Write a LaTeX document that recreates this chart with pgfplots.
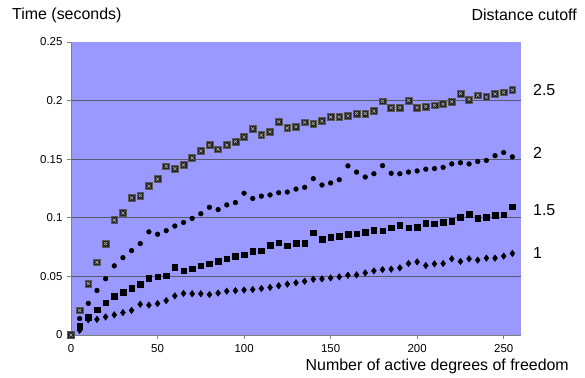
\documentclass[border=0pt]{standalone}
\usepackage{fontspec}
\setmainfont{Liberation Sans}
\usepackage{pgfplots}
\usepackage{pgfplotstable}
\pgfplotsset{compat=1.18}
\definecolor{plotbg}{RGB}{153,153,255}
\definecolor{gridc}{RGB}{88,88,110}
\definecolor{axc}{RGB}{128,128,128}

\pgfplotstableread{
x c1 c15 c2 c25
0 0 0 0 0
5 0.004 0.0075 0.014 0.021
10 0.013 0.0153 0.027 0.044
15 0.0133 0.0215 0.038 0.062
20 0.0154 0.0276 0.048 0.078
25 0.0172 0.033 0.059 0.098
30 0.0191 0.0366 0.066 0.104
35 0.021 0.0397 0.072 0.117
40 0.0262 0.0431 0.078 0.119
45 0.0255 0.0487 0.088 0.127
50 0.0268 0.0498 0.086 0.133
55 0.0294 0.0505 0.089 0.144
60 0.0334 0.0578 0.093 0.142
65 0.0355 0.0547 0.096 0.145
70 0.0352 0.0565 0.0995 0.151
75 0.0352 0.0592 0.1035 0.157
80 0.0345 0.061 0.109 0.162
85 0.0358 0.063 0.107 0.1585
90 0.0374 0.0652 0.111 0.162
95 0.0378 0.0673 0.113 0.165
100 0.0384 0.0685 0.121 0.169
105 0.0388 0.0716 0.1165 0.176
110 0.0397 0.0718 0.1185 0.1705
115 0.0406 0.0768 0.1195 0.1734
120 0.042 0.0786 0.1214 0.182
125 0.0434 0.0761 0.122 0.1766
130 0.0446 0.0784 0.1245 0.1777
135 0.0458 0.0784 0.126 0.1814
140 0.0476 0.0873 0.1334 0.1805
145 0.0479 0.0816 0.128 0.1825
150 0.0487 0.0836 0.1297 0.186
155 0.0496 0.0841 0.1325 0.186
160 0.051 0.0859 0.1443 0.187
165 0.0513 0.0865 0.139 0.189
170 0.053 0.0879 0.1348 0.189
175 0.0547 0.0896 0.1376 0.191
180 0.0558 0.089 0.1445 0.1994
185 0.0562 0.0916 0.138 0.194
190 0.0573 0.0939 0.1376 0.194
195 0.061 0.0916 0.139 0.200
200 0.0624 0.0922 0.140 0.194
205 0.0593 0.0954 0.1415 0.195
210 0.0607 0.0951 0.142 0.196
215 0.061 0.0962 0.143 0.197
220 0.065 0.097 0.146 0.199
225 0.0628 0.1005 0.147 0.206
230 0.065 0.1031 0.146 0.201
235 0.0639 0.0997 0.148 0.2045
240 0.0656 0.1005 0.149 0.203
245 0.0656 0.1022 0.153 0.2057
250 0.0673 0.1025 0.1557 0.207
255 0.0696 0.1096 0.152 0.209
}\data

\begin{document}
\begin{tikzpicture}
\useasboundingbox (-71bp,-43bp) rectangle (514bp,335bp);
\begin{axis}[
  scale only axis, width=450bp, height=293bp,
  at={(0,0)}, anchor=south west,
  xmin=0, xmax=260, ymin=0, ymax=0.25,
  clip=false,
  axis background/.style={fill=plotbg},
  axis x line*=bottom, axis y line*=left,
  axis line style={draw=axc, line width=0.9pt, -},
  xtick={0,50,100,150,200,250},
  xticklabels={0,50,100,150,200,250},
  ytick={0,0.05,0.1,0.15,0.2},
  yticklabels={0,0.05,0.1,0.15,0.2},
  extra y ticks={0.25}, extra y tick labels={0.25},
  extra y tick style={grid=none},
  tick align=outside, major tick length=4bp,
  tick style={draw=axc, line width=0.7pt},
  ymajorgrids, grid style={draw=gridc, line width=0.8pt},
  ticklabel style={font=\fontsize{11.5}{13}\selectfont},
  xticklabel style={yshift=-2bp},
  yticklabel style={xshift=-1bp},
  /pgf/number format/assume math mode=true,
]
\addplot[only marks, mark=diamond*, mark size=3.3bp, mark options={fill=black, draw=black}] table[x=x,y=c1] {\data};
\addplot[only marks, mark=square*, mark size=2.8bp, mark options={fill=black, draw=black}] table[x=x,y=c15] {\data};
\addplot[only marks, mark=*, mark size=2.4bp, mark options={fill=black, draw=black}] table[x=x,y=c2] {\data};
\addplot[only marks, mark=square*, mark size=3.4bp, mark options={fill=black!85, draw=gray!70!black, line width=0.6pt}] table[x=x,y=c25] {\data};
\addplot[only marks, mark=x, mark size=2.1bp, mark options={draw=gray!60, line width=0.55pt}, forget plot] table[x=x,y=c25] {\data};
\end{axis}
\begin{scope}[every node/.style={inner sep=0pt, font=\fontsize{16}{19}\selectfont}]
\node[anchor=west] at (-59bp,320bp) {Time (seconds)};
\node[anchor=east] at (506bp,320bp) {Distance cutoff};
\node[anchor=east] at (498bp,-31bp) {Number of active degrees of freedom};
\node[anchor=west] at (462bp,245bp) {2.5};
\node[anchor=west] at (462bp,182bp) {2};
\node[anchor=west] at (462bp,125bp) {1.5};
\node[anchor=west] at (462bp,82bp) {1};
\end{scope}
\end{tikzpicture}
\end{document}
